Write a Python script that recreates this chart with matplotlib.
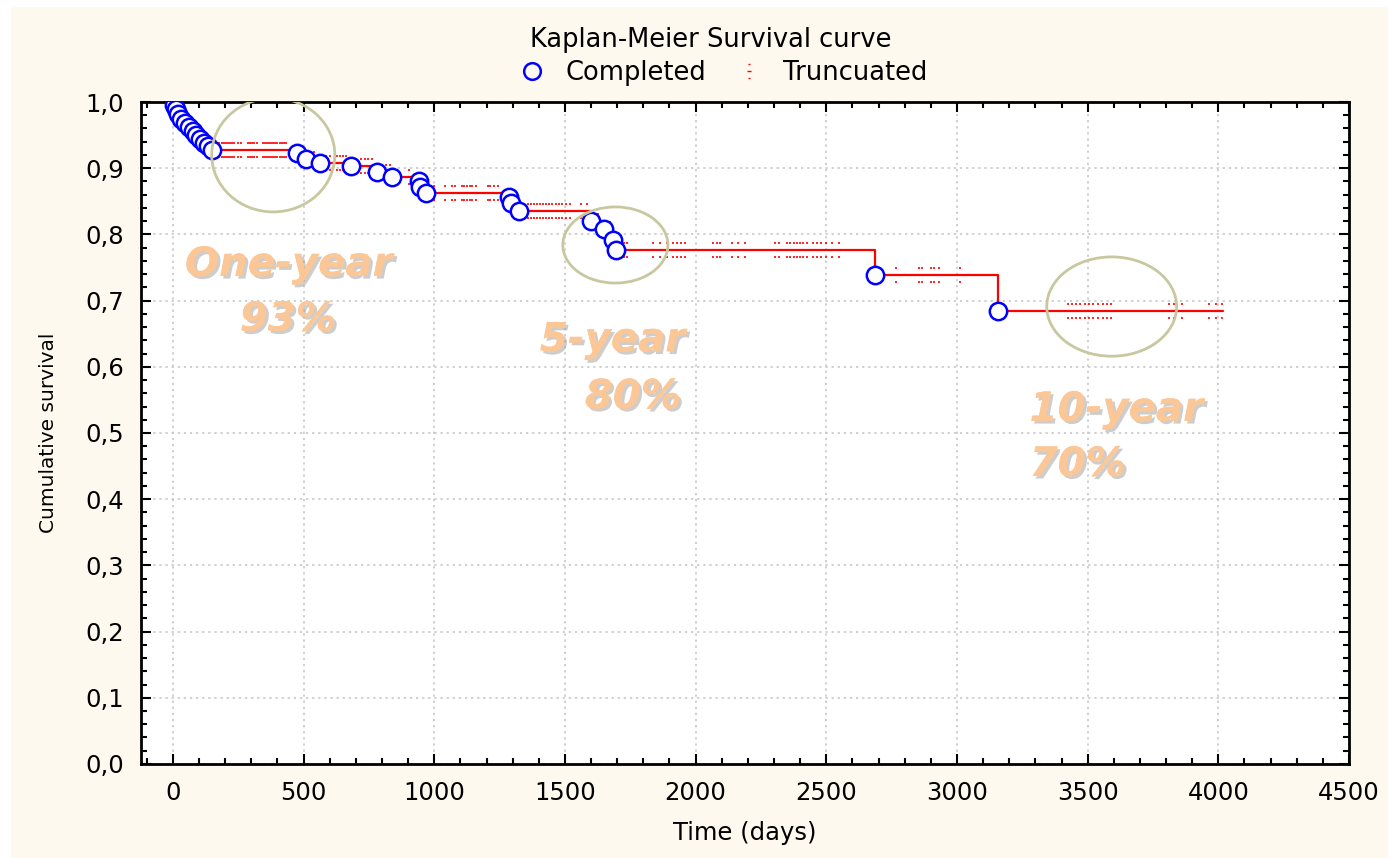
import numpy as np
import matplotlib
matplotlib.use("Agg")
import matplotlib.pyplot as plt
from matplotlib.patches import Ellipse, Rectangle
from matplotlib.path import Path
import matplotlib.patheffects as pe

# Event (completed) times and survival after each drop
event_t = [5, 12, 20, 30, 45, 60, 75, 90, 105, 120, 135, 150, 473, 508, 561,
           683, 782, 840, 940, 945, 970, 1286, 1293, 1324, 1600, 1649, 1683,
           1694, 2687, 3157]
event_s = [0.995, 0.990, 0.982, 0.975, 0.968, 0.962, 0.956, 0.950, 0.944,
           0.938, 0.933, 0.928, 0.923, 0.914, 0.908, 0.904, 0.895, 0.887,
           0.880, 0.872, 0.863, 0.856, 0.847, 0.835, 0.821, 0.808, 0.791,
           0.777, 0.739, 0.684]

# Censored (truncated) times
cens_t = [160, 175, 187, 195, 203, 210, 218, 226, 234, 250, 262, 288, 296,
          304, 312, 320, 345, 352, 360, 368, 376, 384, 392, 400, 408, 416,
          424, 432, 495, 540, 585, 600, 628, 640, 652, 664, 720, 735, 748,
          760, 815, 830, 905, 1000, 1040, 1068, 1080, 1105, 1115, 1125, 1135,
          1145, 1158, 1205, 1215, 1230, 1245, 1360, 1370, 1380, 1392, 1404,
          1416, 1428, 1440, 1452, 1465, 1478, 1490, 1505, 1520, 1560, 1585,
          1628, 1672, 1725, 1737, 1837, 1863, 1890, 1915, 1930, 1945, 1960,
          2066, 2080, 2095, 2139, 2162, 2188, 2305, 2320, 2350, 2362, 2375,
          2388, 2400, 2412, 2425, 2450, 2465, 2480, 2500, 2520, 2550, 2765,
          2855, 2865, 2900, 2912, 2930, 3012, 3425, 3440, 3455, 3470, 3490,
          3505, 3520, 3540, 3560, 3575, 3590, 3810, 3830, 3860, 3965, 3990,
          4015]

x_ticks = [0, 500, 1000, 1500, 2000, 2500, 3000, 3500, 4000, 4500]
y_ticks = [0.0, 0.1, 0.2, 0.3, 0.4, 0.5, 0.6, 0.7, 0.8, 0.9, 1.0]

# step curve
step_t = np.array([0] + event_t + [cens_t[-1]])
step_s = np.array([1.0] + event_s + [event_s[-1]])
idx = np.searchsorted(step_t, cens_t, side="right") - 1
cens_s = step_s[idx]

cream = "#fef9ef"
fig = plt.figure(figsize=(13.88, 8.58), dpi=100, facecolor="white")
fig.patches.append(Rectangle((11 / 1388, 0), 1 - 11 / 1388, 1 - 7 / 858,
                             transform=fig.transFigure, facecolor=cream,
                             edgecolor="none", zorder=-10))
ax = fig.add_axes([0.1016, 0.1096, 0.9719 - 0.1016, 0.8811 - 0.1096])
ax.set_facecolor("white")

ax.step(step_t, step_s, where="post", color="red", lw=1.6, zorder=3)

cmark = Path([(-0.15, 1), (0.15, 1), (-0.35, 0), (0.35, 0), (-0.15, -1), (0.15, -1)],
             [Path.MOVETO, Path.LINETO] * 3)
ax.plot(cens_t, cens_s, linestyle="none", marker=cmark, markersize=10,
        markeredgewidth=1.2, color="red", zorder=4)
ax.plot(event_t, event_s, linestyle="none", marker="o", markersize=12.5,
        markerfacecolor="white", markeredgecolor="blue", markeredgewidth=1.8,
        zorder=5)

# highlight ellipses
for cx, cy, w, h in [(384, 0.920, 471, 0.172), (1693, 0.784, 402, 0.115),
                     (3592, 0.691, 497, 0.150)]:
    ax.add_patch(Ellipse((cx, cy), w, h, fill=False, edgecolor="#c8c8a0",
                         lw=2, zorder=6))

shadow = [pe.withSimplePatchShadow(offset=(2, -2), shadow_rgbFace="#909090",
                                   alpha=0.45), pe.Normal()]
for x, y, s in [(46, 0.754, "One-year"), (256, 0.671, "93%"),
                (1404, 0.640, "5-year"), (1576, 0.554, "80%"),
                (3278, 0.535, "10-year"), (3278, 0.452, "70%")]:
    ax.text(x, y, s, color="#fbc796", fontsize=29, fontweight="bold",
            fontstyle="italic", ha="left", va="center", zorder=7,
            path_effects=shadow)

ax.set_xlim(-122, 4500)
ax.set_ylim(0, 1.0)
ax.set_xticks(x_ticks)
ax.set_yticks(y_ticks)
ax.set_xticks(np.arange(-100, 4501, 100), minor=True)
ax.set_yticks(np.arange(0, 1.001, 0.02), minor=True)
ax.set_yticklabels([f"{v:.1f}".replace(".", ",") for v in y_ticks])
ax.tick_params(which="both", direction="in", top=True, right=True,
               width=1.5, labelsize=17.5, pad=12)
ax.tick_params(which="major", length=7)
ax.tick_params(which="minor", length=4)
for sp in ax.spines.values():
    sp.set_linewidth(2)
ax.grid(True, which="major", color="#c4c4c4", linestyle=(0, (1.5, 2.5)), lw=1.1)
ax.set_axisbelow(True)

ax.set_xlabel("Time (days)", fontsize=17.5, labelpad=12)
ax.set_ylabel("Cumulative survival", fontsize=14.5, labelpad=20)

fig.text(711 / 1388, 1 - 40 / 858, "Kaplan-Meier Survival curve",
         ha="center", va="center", fontsize=18.5)
legend_handles = [
    plt.Line2D([], [], linestyle="none", marker="o", markersize=12,
               markerfacecolor="none", markeredgecolor="blue",
               markeredgewidth=1.8),
    plt.Line2D([], [], linestyle="none", marker=cmark, markersize=10,
               markeredgewidth=1.0, color="red"),
]
fig.legend(legend_handles, ["Completed", "Truncuated"], loc="center",
           bbox_to_anchor=(723 / 1388, 1 - 73 / 858), ncol=2, frameon=False,
           fontsize=18.5, handlelength=1.0, columnspacing=1.2,
           handletextpad=0.8)

fig.savefig("out.png", dpi=100, facecolor="white")
